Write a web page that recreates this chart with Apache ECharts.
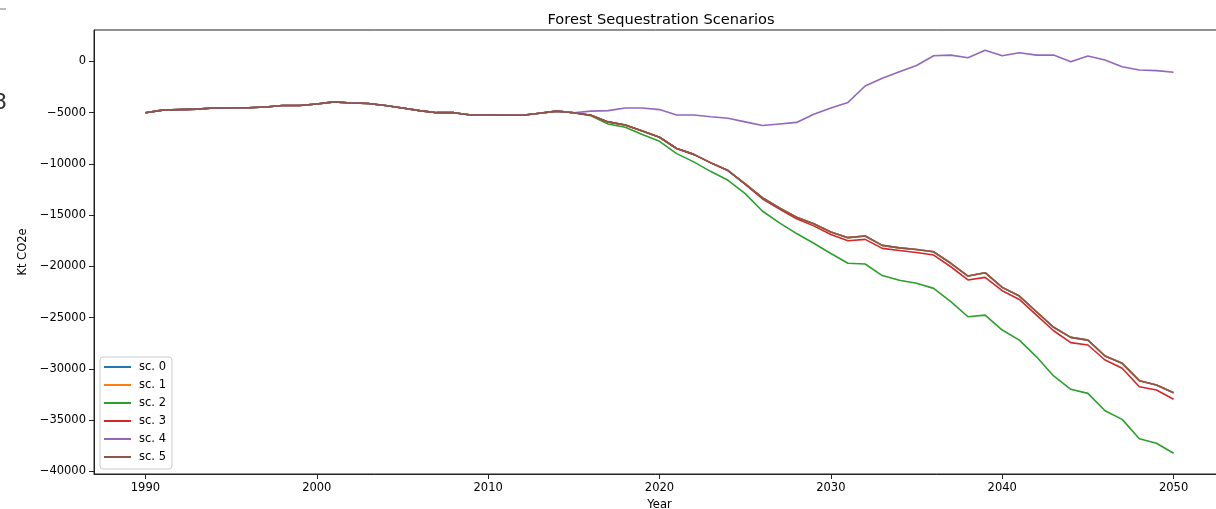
<!DOCTYPE html>
<html>
<head>
<meta charset="utf-8">
<title>Forest Sequestration Scenarios</title>
<script src="https://cdn.jsdelivr.net/npm/echarts@6/dist/echarts.min.js"></script>
<style>
  html, body { margin: 0; padding: 0; background: #fff; }
  #chart { width: 1216px; height: 509px; }
</style>
</head>
<body>
<div id="chart"></div>
<script>
const years = [1990, 1991, 1992, 1993, 1994, 1995, 1996, 1997, 1998, 1999,
  2000, 2001, 2002, 2003, 2004, 2005, 2006, 2007, 2008, 2009,
  2010, 2011, 2012, 2013, 2014, 2015, 2016, 2017, 2018, 2019,
  2020, 2021, 2022, 2023, 2024, 2025, 2026, 2027, 2028, 2029,
  2030, 2031, 2032, 2033, 2034, 2035, 2036, 2037, 2038, 2039,
  2040, 2041, 2042, 2043, 2044, 2045, 2046, 2047, 2048, 2049, 2050];

// 1990-2015, identical for every scenario
const history = [-5000, -4750, -4700, -4650, -4550, -4520, -4520, -4450, -4300, -4300,
  -4150, -3950, -4050, -4100, -4300, -4550, -4800, -5000, -5000, -5230,
  -5230, -5250, -5250, -5050, -4850, -5000];

// 2016-2050 per scenario
const sc5Tail = [-5250, -5900, -6200, -6800, -7400, -8500, -9070, -9900, -10650, -11950,
  -13300, -14300, -15200, -15850, -16650, -17200, -17040, -17950, -18200, -18350,
  -18580, -19700, -20950, -20620, -22050, -22900, -24430, -25950, -26930, -27200,
  -28750, -29470, -31160, -31580, -32330];
const sc3Tail = [-5250, -5900, -6200, -6800, -7400, -8500, -9070, -9900, -10650, -12000,
  -13400, -14400, -15350, -16050, -16900, -17500, -17370, -18250, -18450, -18650,
  -18900, -20040, -21330, -21080, -22380, -23230, -24760, -26290, -27450, -27680,
  -29140, -29950, -31750, -32070, -32980];
const sc2Tail = [-5300, -6110, -6430, -7130, -7800, -9000, -9800, -10750, -11600, -12900,
  -14600, -15750, -16800, -17750, -18750, -19700, -19770, -20900, -21350, -21650,
  -22150, -23450, -24920, -24760, -26220, -27200, -28830, -30700, -32000, -32400,
  -34090, -34940, -36830, -37270, -38250];
const sc4Tail = [-4850, -4800, -4550, -4550, -4700, -5230, -5230, -5400, -5550, -5900,
  -6250, -6100, -5950, -5150, -4550, -4000, -2400, -1650, -1000, -400,
  550, 620, 360, 1100, 560, 850, 620, 620, -30, 530,
  140, -510, -840, -900, -1060];
// sc. 0 and sc. 1 sit underneath sc. 5 in the picture
const sc0Tail = sc5Tail;
const sc1Tail = sc5Tail;

const names = ["sc. 0", "sc. 1", "sc. 2", "sc. 3", "sc. 4", "sc. 5"];
const tails = [sc0Tail, sc1Tail, sc2Tail, sc3Tail, sc4Tail, sc5Tail];
const colors = ["#1f77b4", "#ff7f0e", "#2ca02c", "#d62728", "#9467bd", "#8c564b"];

const xTicks = [1990, 2000, 2010, 2020, 2030, 2040, 2050];
const yTicks = [0, -5000, -10000, -15000, -20000, -25000, -30000, -35000, -40000];

const font = "DejaVu Sans";
const fmtMinus = v => String(v).replace("-", "\u2212");

let series = names.map((name, i) => ({
  name: name,
  type: "line",
  symbol: "none",
  lineStyle: { width: 1.6, color: colors[i] },
  itemStyle: { color: colors[i] },
  data: history.concat(tails[i]).map((v, k) => [years[k], v])
}));

let option = {
  backgroundColor: "#fff",
  animation: false,
  title: {
    text: "Forest Sequestration Scenarios",
    left: 656,
    textAlign: "center",
    top: 8,
    textStyle: { fontFamily: font, fontSize: 14.6, fontWeight: "normal", color: "#000" }
  },
  legend: {
    orient: "vertical",
    left: 100,
    top: 357,
    data: names,
    icon: "rect",
    itemWidth: 27,
    itemHeight: 2,
    itemGap: 6,
    padding: [4, 6, 6, 4],
    backgroundColor: "#fff",
    borderColor: "#ccc",
    borderWidth: 1,
    borderRadius: 3,
    textStyle: { fontFamily: font, fontSize: 11.5, color: "#000", padding: [0, 0, 0, 3] }
  },
  grid: {
    left: 94,
    right: -9,
    top: 30,
    bottom: 35,
    outerBoundsMode: "none",
    containLabel: false,
    show: true,
    borderColor: "#222",
    borderWidth: 1
  },
  xAxis: {
    type: "value",
    min: 1987,
    max: 2053,
    name: "Year",
    nameLocation: "middle",
    nameGap: 22,
    nameTextStyle: { fontFamily: font, fontSize: 11.5, color: "#000" },
    axisLine: { onZero: false, lineStyle: { color: "#222" } },
    axisTick: { length: 5, lineStyle: { color: "#222" }, customValues: xTicks },
    axisLabel: { fontFamily: font, fontSize: 11.5, color: "#000", margin: 8,
      customValues: xTicks, formatter: v => String(v) },
    splitLine: { show: false }
  },
  yAxis: {
    type: "value",
    min: -40270,
    max: 3070,
    name: "Kt CO2e",
    nameLocation: "middle",
    nameGap: 58,
    nameTextStyle: { fontFamily: font, fontSize: 11.5, color: "#000" },
    axisLine: { show: true, onZero: false, lineStyle: { color: "#222" } },
    axisTick: { show: true, length: 5, lineStyle: { color: "#222" }, customValues: yTicks },
    axisLabel: { fontFamily: font, fontSize: 11.5, color: "#000", margin: 8,
      customValues: yTicks, formatter: fmtMinus },
    splitLine: { show: false }
  },
  graphic: [
    { type: "text", left: -7, top: 92, style: { text: "8", font: "22px DejaVu Sans", fill: "#333" } },
    { type: "line", shape: { x1: 0, y1: 9, x2: 6, y2: 9 }, style: { stroke: "#bbb", lineWidth: 2 } }
  ],
  series: series
};

let myChart = echarts.init(document.getElementById("chart"));
myChart.setOption(option);
</script>
</body>
</html>
